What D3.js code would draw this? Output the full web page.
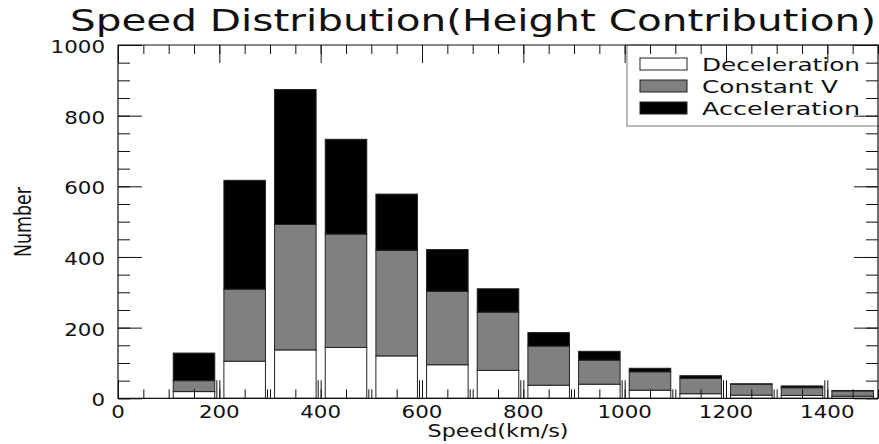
<!DOCTYPE html>
<meta charset="utf-8">
<style>
body{margin:0;background:#fff;}
svg{display:block;font-family:"DejaVu Sans",sans-serif;}
</style>
<script src="https://cdn.jsdelivr.net/npm/d3@7"></script>
<svg width="879" height="444"></svg>
<script>

// histogram bins (km/s), centre of each 100 km/s bin
var binCenters = [150, 250, 350, 450, 550, 650, 750, 850, 950, 1050, 1150, 1250, 1350, 1450];
// counts of each component in the bin
var deceleration = [19, 105, 137, 144, 120, 95, 79, 37, 40, 23, 13, 9, 8, 6];
var constantV    = [31, 204, 355, 321, 299, 208, 165, 111, 68, 52, 43, 31, 22, 15];
var acceleration = [78, 308, 382, 268, 159, 118, 66, 38, 25, 10, 8, 1, 5, 1];

var seriesNames = ["Deceleration", "Constant V", "Acceleration"];
var seriesColors = ["#ffffff", "#808080", "#000000"];

var xMajor = [0, 200, 400, 600, 800, 1000, 1200, 1400];
var yMajor = [0, 200, 400, 600, 800, 1000];

var svg = d3.select("svg");

var x = d3.scaleLinear().domain([0, 1500]).range([118, 878]),
    y = d3.scaleLinear().domain([0, 1000]).range([398.3, 45]);

var rows = binCenters.map(function(c, i) {
  return {speed: c, "Deceleration": deceleration[i], "Constant V": constantV[i], "Acceleration": acceleration[i]};
});
var stacked = d3.stack().keys(seriesNames)(rows);

var barW = 82; // in km/s units

svg.append("g").selectAll("g")
  .data(stacked)
  .enter().append("g")
    .attr("fill", function(d, i) { return seriesColors[i]; })
  .selectAll("rect")
  .data(function(d) { return d.filter(function(s) { return s[1] - s[0] > 0; }); })
  .enter().append("rect")
    .attr("x", function(d) { return x(d.data.speed - barW / 2); })
    .attr("width", function(d) { return x(barW) - x(0); })
    .attr("y", function(d) { return y(d[1]); })
    .attr("height", function(d) { return y(d[0]) - y(d[1]); })
    .attr("stroke", "#222")
    .attr("stroke-width", 1);

// stretched text, the original's font is wider than DejaVu
function label(t, px, py, size, len, anchor) {
  return svg.append("text")
    .attr("x", px).attr("y", py)
    .attr("font-size", size)
    .attr("text-anchor", anchor || "start")
    .attr("textLength", len)
    .attr("lengthAdjust", "spacingAndGlyphs")
    .attr("fill", "#111")
    .text(t);
}

// legend
var leg = svg.append("g");
leg.append("rect")
  .attr("x", 627).attr("y", 45).attr("width", 270).attr("height", 81)
  .attr("fill", "none").attr("stroke", "#777");
seriesNames.forEach(function(n, i) {
  leg.append("rect")
    .attr("x", 640).attr("y", 58 + i * 22).attr("width", 47).attr("height", 12)
    .attr("fill", seriesColors[i]).attr("stroke", "#222");
});
label("Deceleration", 702, 71, 17, 158);
label("Constant V", 702, 93, 17, 136);
label("Acceleration", 702, 115, 17, 158);

// axes / ticks
function ticks(axis, tr) {
  var g = svg.append("g").attr("transform", tr).call(axis);
  g.select(".domain").remove();
  g.selectAll("line").attr("stroke", "#111");
  return g;
}
var minorX = d3.range(0, 1501, 50), minorY = d3.range(0, 1001, 50);

ticks(d3.axisBottom(x).tickValues(minorX).tickSize(-9).tickFormat(""), "translate(0,398.3)");
ticks(d3.axisBottom(x).tickValues(xMajor).tickSize(-18).tickFormat(""), "translate(0,398.3)");
// doubled tick lines at the 100 marks
ticks(d3.axisBottom(d3.scaleLinear().domain([0, 1500]).range([115, 875]))
  .tickValues(d3.range(200, 1401, 100))
  .tickSize(-9).tickFormat(""), "translate(0,398.3)")
  .selectAll("line").attr("y2", function(d) { return d % 200 === 0 ? -18 : -9; });
ticks(d3.axisTop(x).tickValues(minorX).tickSize(-9).tickFormat(""), "translate(0,45)");
ticks(d3.axisTop(x).tickValues(xMajor).tickSize(-18).tickFormat(""), "translate(0,45)");
ticks(d3.axisLeft(y).tickValues(minorY).tickSize(-12).tickFormat(""), "translate(118,0)");
ticks(d3.axisLeft(y).tickValues(yMajor).tickSize(-24).tickFormat(""), "translate(118,0)");
ticks(d3.axisRight(y).tickValues(minorY).tickSize(-12).tickFormat(""), "translate(878,0)");
ticks(d3.axisRight(y).tickValues(yMajor).tickSize(-24).tickFormat(""), "translate(878,0)");

// frame
svg.append("path")
  .attr("d", "M118,45V398.3H878V45Z")
  .attr("fill", "none").attr("stroke", "#111").attr("stroke-width", 1.2);

// tick labels
xMajor.forEach(function(v) {
  var s = String(v);
  label(s, x(v), 418, 18.5, s.length * 13.6, "middle");
});
yMajor.forEach(function(v) {
  var s = String(v);
  label(s, 105, y(v) + 8, 18.5, s.length * 13.6, "end");
});

// titles
label("Speed Distribution(Height Contribution)", 70, 31, 31, 806);
label("Speed(km/s)", 498, 437, 18, 141, "middle");
svg.append("text")
  .attr("transform", "translate(31,222) rotate(-90)")
  .attr("text-anchor", "middle")
  .attr("font-size", 23)
  .attr("textLength", 70)
  .attr("lengthAdjust", "spacingAndGlyphs")
  .attr("fill", "#111")
  .text("Number");

</script>
